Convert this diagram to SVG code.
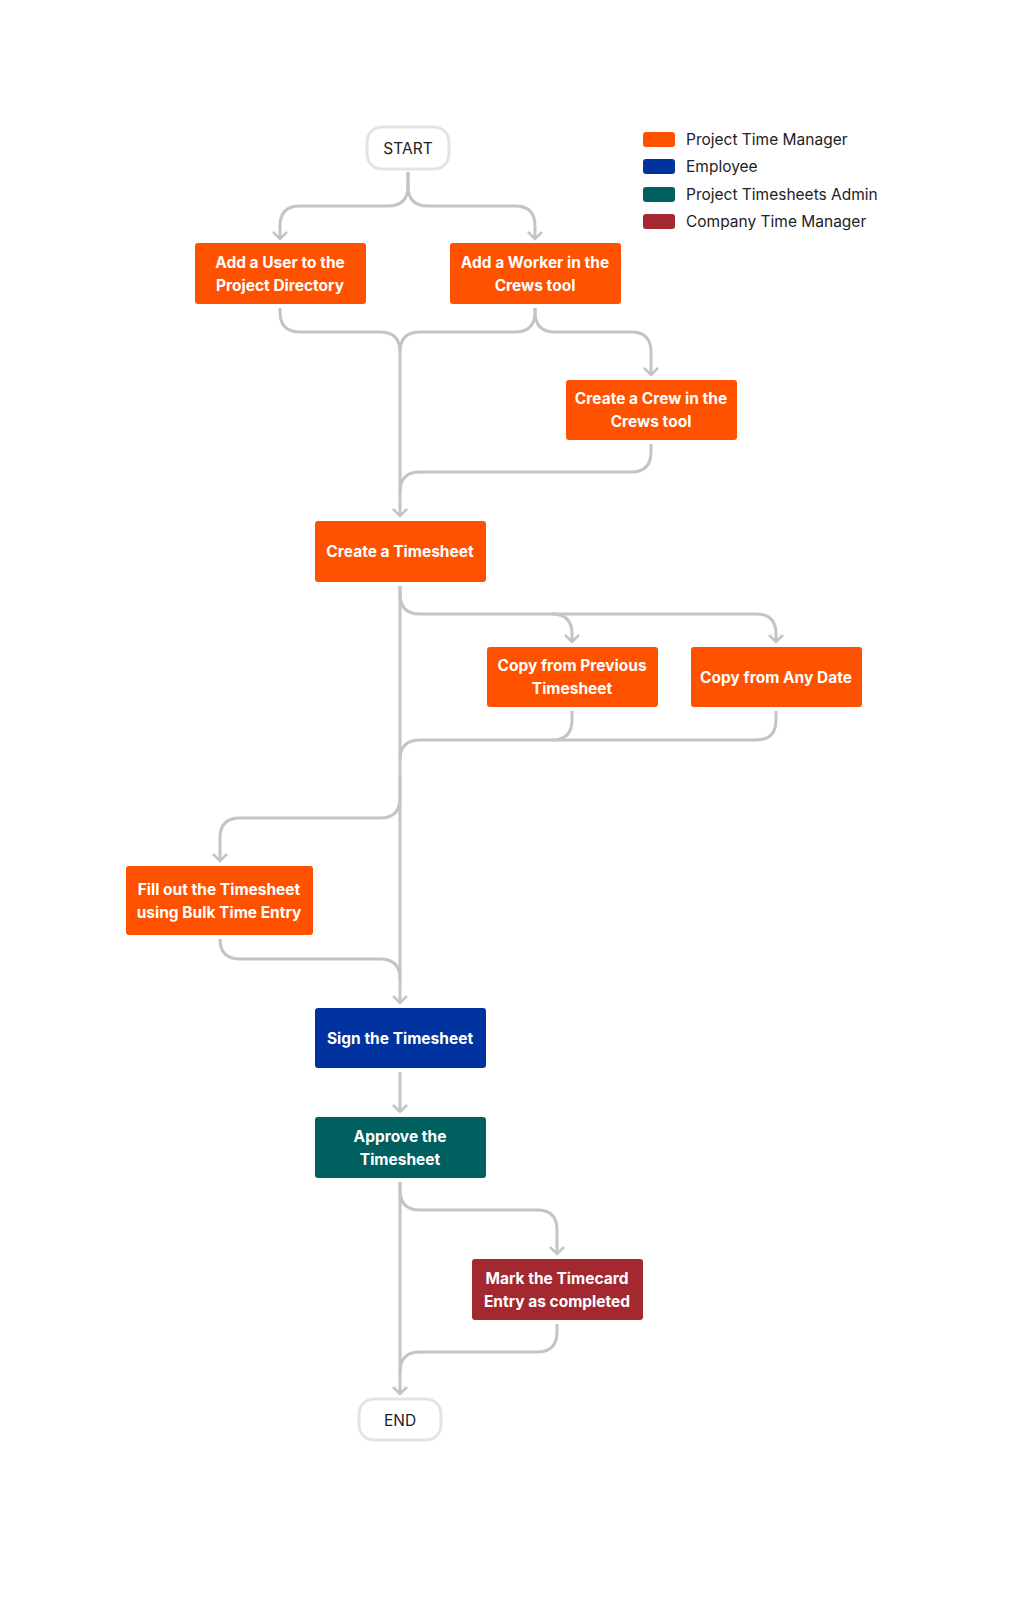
<svg xmlns="http://www.w3.org/2000/svg" width="1022" height="1598" viewBox="0 0 1022 1598">
<defs>
<marker id="ah" viewBox="-8 -8 16 16" markerWidth="16" markerHeight="16" markerUnits="userSpaceOnUse" orient="auto" refX="0" refY="0">
<path d="M-7,-7 L0,0 L-7,7" fill="none" stroke="#c4c4c4" stroke-width="2.5"/>
</marker>
<style>
.c{fill:none;stroke:#c4c4c4;stroke-width:3}
.a{marker-end:url(#ah)}
.t{font-family:Inter,"Noto Sans",sans-serif;font-size:15.5px;font-weight:700;fill:#fff;text-anchor:middle}
.o{fill:#ff5200}
.se{fill:#fff;stroke:#e4e4e4;stroke-width:3}
.st{font-family:Inter,"Noto Sans",sans-serif;font-size:15.5px;fill:#222;text-anchor:middle}
.l{font-family:Inter,"Noto Sans",sans-serif;font-size:15.5px;fill:#222}
</style>
</defs>
<rect width="1022" height="1598" fill="#fff"/>
<g id="connectors">
<path class="c a" d="M408,172 V186 Q408,206 388,206 H300 Q280,206 280,226 V239"/>
<path class="c a" d="M408,172 V186 Q408,206 428,206 H515 Q535,206 535,226 V239"/>
<path class="c a" d="M280,308 V312 Q280,332 300,332 H380 Q400,332 400,352 V516"/>
<path class="c" d="M535,308 V312 Q535,332 515,332 H420 Q400,332 400,352"/>
<path class="c a" d="M535,308 V312 Q535,332 555,332 H631 Q651,332 651,352 V375"/>
<path class="c" d="M651,444 V452 Q651,472 631,472 H420 Q400,472 400,492"/>
<path class="c a" d="M400,586 V594 Q400,614 420,614 H552 Q572,614 572,634 V642"/>
<path class="c a" d="M552,614 H756 Q776,614 776,634 V642"/>
<path class="c a" d="M400,586 V1003"/>
<path class="c" d="M572,711 V720 Q572,740 552,740 H420 Q400,740 400,760"/>
<path class="c" d="M776,711 V720 Q776,740 756,740 H552"/>
<path class="c a" d="M400,778 V798 Q400,818 380,818 H240 Q220,818 220,838 V861"/>
<path class="c" d="M220,939 V939 Q220,959 240,959 H380 Q400,959 400,979"/>
<path class="c a" d="M400,1072 V1112"/>
<path class="c a" d="M400,1182 V1190 Q400,1210 420,1210 H537 Q557,1210 557,1230 V1254"/>
<path class="c a" d="M400,1182 V1394"/>
<path class="c" d="M557,1324 V1332 Q557,1352 537,1352 H420 Q400,1352 400,1372"/>
</g>
<g id="start"><rect class="se" x="367" y="127" width="82" height="42" rx="15"/><text class="st" x="408" y="154">START</text></g>
<g id="add-user"><rect class="o" x="195" y="243" width="171" height="61" rx="3"/><text class="t" x="280" y="268">Add a User to the</text><text class="t" x="280" y="291">Project Directory</text></g>
<g id="add-worker"><rect class="o" x="450" y="243" width="171" height="61" rx="3"/><text class="t" x="535" y="268">Add a Worker in the</text><text class="t" x="535" y="291">Crews tool</text></g>
<g id="create-crew"><rect class="o" x="566" y="380" width="171" height="60" rx="3"/><text class="t" x="651" y="404">Create a Crew in the</text><text class="t" x="651" y="427">Crews tool</text></g>
<g id="create-timesheet"><rect class="o" x="315" y="521" width="171" height="61" rx="3"/><text class="t" x="400" y="557">Create a Timesheet</text></g>
<g id="copy-prev"><rect class="o" x="487" y="647" width="171" height="60" rx="3"/><text class="t" x="572" y="671">Copy from Previous</text><text class="t" x="572" y="694">Timesheet</text></g>
<g id="copy-any"><rect class="o" x="691" y="647" width="171" height="60" rx="3"/><text class="t" x="776" y="683">Copy from Any Date</text></g>
<g id="fill-out"><rect class="o" x="126" y="866" width="187" height="69" rx="3"/><text class="t" x="219" y="895">Fill out the Timesheet</text><text class="t" x="219" y="918">using Bulk Time Entry</text></g>
<g id="sign"><rect fill="#0033a0" x="315" y="1008" width="171" height="60" rx="3"/><text class="t" x="400" y="1044">Sign the Timesheet</text></g>
<g id="approve"><rect fill="#005f5f" x="315" y="1117" width="171" height="61" rx="3"/><text class="t" x="400" y="1142">Approve the</text><text class="t" x="400" y="1165">Timesheet</text></g>
<g id="mark"><rect fill="#a3282f" x="472" y="1259" width="171" height="61" rx="3"/><text class="t" x="557" y="1284">Mark the Timecard</text><text class="t" x="557" y="1307">Entry as completed</text></g>
<g id="end"><rect class="se" x="359" y="1399" width="82" height="41" rx="15"/><text class="st" x="400" y="1426">END</text></g>
<g id="legend">
<rect fill="#ff5200" x="643" y="132" width="32" height="15" rx="3"/><text class="l" x="686" y="145">Project Time Manager</text>
<rect fill="#0033a0" x="643" y="159" width="32" height="15" rx="3"/><text class="l" x="686" y="172">Employee</text>
<rect fill="#005f5f" x="643" y="187" width="32" height="15" rx="3"/><text class="l" x="686" y="200">Project Timesheets Admin</text>
<rect fill="#a3282f" x="643" y="214" width="32" height="15" rx="3"/><text class="l" x="686" y="227">Company Time Manager</text>
</g>
</svg>
